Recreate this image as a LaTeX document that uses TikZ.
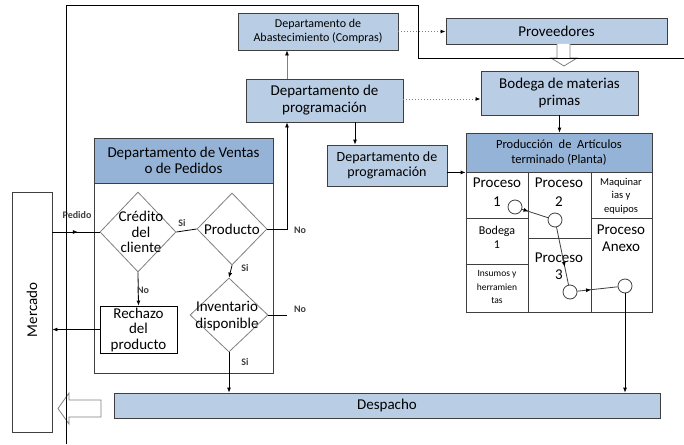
\documentclass[tikz,border=0pt]{standalone}
\usepackage{fontspec}
\setmainfont{Carlito}
\usetikzlibrary{shapes.geometric,arrows.meta,decorations.markings,calc}
\definecolor{paleblue}{HTML}{B9CDE5}
\definecolor{headblue}{HTML}{95B3D7}
\definecolor{edgegray}{HTML}{3F3F3F}
\definecolor{softgray}{HTML}{808080}
\newcommand{\sz}[2]{\fontsize{#1}{#2}\selectfont}
\begin{document}
\begin{tikzpicture}[x=1pt,y=-1pt,line width=0.8pt,
  tip/.style={-{Latex[length=5pt,width=4pt,color=black]}},
  bluebox/.style={draw=edgegray,fill=paleblue,rectangle,inner sep=0pt,align=center},
  headbox/.style={draw=edgegray,fill=headblue,rectangle,inner sep=0pt,align=center},
  plainbox/.style={draw=edgegray,fill=white,rectangle,inner sep=0pt,align=center},
  choice/.style={draw=softgray,fill=white,diamond,inner sep=0pt,shape aspect=1},
  stepdot/.style={draw=edgegray,fill=white,circle,inner sep=0pt,minimum size=14pt},
  txt/.style={inner sep=0pt,align=center},
  tag/.style={inner sep=0pt,text=edgegray,font=\sz{10}{11}\bfseries},
  dots/.style={softgray,dotted,line width=1pt},
  midarrow/.style={postaction={decorate},decoration={markings,
      mark=at position #1 with {\arrow{Latex[length=5pt,width=4pt,color=black]}}}},
  midarrow/.default=0.5]
\useasboundingbox (0,0) rectangle (684,444);

% upper row of departments
\node[bluebox,minimum width=160pt,minimum height=37pt,font=\sz{12}{13.5}] (abast) at (318,31.5)
  {Departamento de\\Abastecimiento (Compras)};
\node[bluebox,minimum width=221pt,minimum height=26pt,font=\sz{15}{16}] (prov) at (556.5,31) {Proveedores};
\node[bluebox,minimum width=157pt,minimum height=44pt,font=\sz{15}{17}] (bod) at (559.5,93)
  {Bodega de materias\\primas};
\node[bluebox,minimum width=157pt,minimum height=43pt,font=\sz{15}{17}] (dpa) at (324.5,100.5)
  {Departamento de\\programación};
\node[bluebox,minimum width=120pt,minimum height=41pt,font=\sz{14}{15.5}] (dpb) at (387,165.5)
  {Departamento de\\programación};

% plant block
\node[plainbox,minimum width=186pt,minimum height=140pt] (pbody) at (559,242) {};
\node[headbox,minimum width=186pt,minimum height=39pt,font=\sz{12.5}{15}] (ph) at (559,152.5)
  {Producción\ \ de\ \ Artículos\\terminado (Planta)};
\coordinate (colA) at (528,0);
\coordinate (colB) at (591,0);
\draw[edgegray] (colA |- pbody.north) -- (colA |- pbody.south);
\draw[edgegray] (colB |- pbody.north) -- (colB |- pbody.south);
\draw[edgegray] (pbody.west |- 0,218) -- (colA |- 0,218);
\draw[edgegray] (pbody.west |- 0,264) -- (colA |- 0,264);
\draw[edgegray] (colA |- 0,238) -- (colB |- 0,238);
\draw[edgegray] (colB |- 0,218) -- (pbody.east |- 0,218);

\node[txt,font=\sz{15}{19}] (p1) at (497,192) {Proceso\\1};
\node[txt,font=\sz{15}{19}] (p2) at (559,192) {Proceso\\2};
\node[txt,font=\sz{10.5}{13.5}] (maq) at (621,196) {Maquinar\\ias y\\equipos};
\node[txt,font=\sz{12}{14}] (bg1) at (497,237) {Bodega\\1};
\node[txt,font=\sz{15}{17}] (pax) at (621,238) {Proceso\\Anexo};
\node[txt,font=\sz{15}{17}] (p3) at (559,266) {Proceso\\3};
\node[txt,font=\sz{9.5}{13.5}] (ins) at (497,287) {Insumos y\\herramien\\tas};

\node[stepdot] (c1) at (515,207) {};
\node[stepdot] (c2) at (555,220) {};
\node[stepdot] (c3) at (570,292) {};
\node[stepdot] (c4) at (625,286) {};
\draw[edgegray,midarrow=0.25] (c1) -- (c2);
\draw[edgegray,midarrow=0.69] (c2) -- (c3);
\draw[edgegray,midarrow=0.34] (c3) -- (c4);

% sales department
\node[plainbox,minimum width=179pt,minimum height=190pt] (vbody) at (183.5,278) {};
\node[headbox,minimum width=179pt,minimum height=45pt,font=\sz{15}{16}] (vh) at (183.5,160.5)
  {Departamento de Ventas\\o de Pedidos};

\node[choice,minimum width=76pt,minimum height=80pt] (cred) at (138,232) {};
\node[txt,font=\sz{15}{15.5}] (credt) at (141,232) {Crédito\\del\\cliente};
\node[choice,minimum width=70pt,minimum height=72pt] (prod) at (232,229) {};
\node[txt,font=\sz{15}{16}] (prodt) at (232,229) {Producto};
\node[choice,minimum width=78pt,minimum height=74pt] (inv) at (229,315) {};
\node[txt,font=\sz{15}{17}] (invt) at (227,316) {Inventario\\disponible};
\node[draw=black,fill=white,rectangle,inner sep=0pt,align=center,
  minimum width=77pt,minimum height=47pt,font=\sz{15}{15.5}] (rech) at (138.5,329.5)
  {Rechazo\\del\\producto};

% market and dispatch
\node[draw=edgegray,fill=white,rectangle,inner sep=0pt,minimum width=40pt,minimum height=240pt] (merc) at (32,312) {};
\node[txt,font=\sz{15}{16},rotate=90] (merct) at (32,310) {Mercado};
\node[bluebox,minimum width=546pt,minimum height=25pt,font=\sz{15}{16}] (desp) at (387,405.5) {Despacho};

% hollow arrows
\draw[softgray,fill=white] (557,44) -- (557,58) -- (551,58) -- (564,66) -- (577,58) -- (570,58) -- (570,44);
\draw[softgray,fill=white] (101,400) -- (69,400) -- (69,393) -- (58,408.5) -- (69,424) -- (69,417) -- (101,417) -- cycle;

% connectors
\coordinate (colN) at (287,0);
\coordinate (colP) at (355,0);
\draw[softgray,tip] (colN |- dpa.north) -- (colN |- abast.south);
\draw[dots,tip] (abast.east) -- (abast.east -| prov.west);
\draw[dots,tip] (dpa.east |- 0,99) -- (bod.west |- 0,99);
\draw[tip] (colP |- dpa.south) -- (colP |- dpb.north);
\draw[tip] (bod.south) -- (bod.south |- ph.north);
\draw[tip] (dpb.east |- ph.south west) -- (ph.south west);
\draw[tip] (c4.south) -- (c4.south |- desp.north);

\draw[midarrow=0.54] (cred.west -| merc.east) -- (cred.west);
\node[tag] (pedido) at (77,215) {Pedido};
\draw (cred.east) -- (prod.west);
\node[tag] (si1) at (182,223) {Si};
\draw[tip] (prod.south) -- (inv.north);
\node[tag] (si2) at (245,268) {Si};
\draw[tip] (cred.south) -- (rech.north);
\node[tag] (no1) at (143,290) {No};
\draw[tip] (rech.west) -- (rech.west -| merc.east);
\draw[tip] (prod.east) -- (prod.east -| colN) -- (colN |- dpa.south);
\draw (inv.east) -- (inv.east -| colN);
\node[tag] (no2) at (300,230) {No};
\node[tag] (no3) at (300,309) {No};
\draw[tip] (inv.south) -- (inv.south |- desp.north);
\node[tag] (si3) at (245,362) {Si};

% surrounding frame
\coordinate (fa) at (66,444);
\coordinate (fb) at (66,5);
\coordinate (fc) at (418,5);
\coordinate (fd) at (418,58);
\coordinate (fe) at (684,58);
\draw (fa) -- (fb) -- (fc) -- (fd) -- (fe);
\end{tikzpicture}
\end{document}
